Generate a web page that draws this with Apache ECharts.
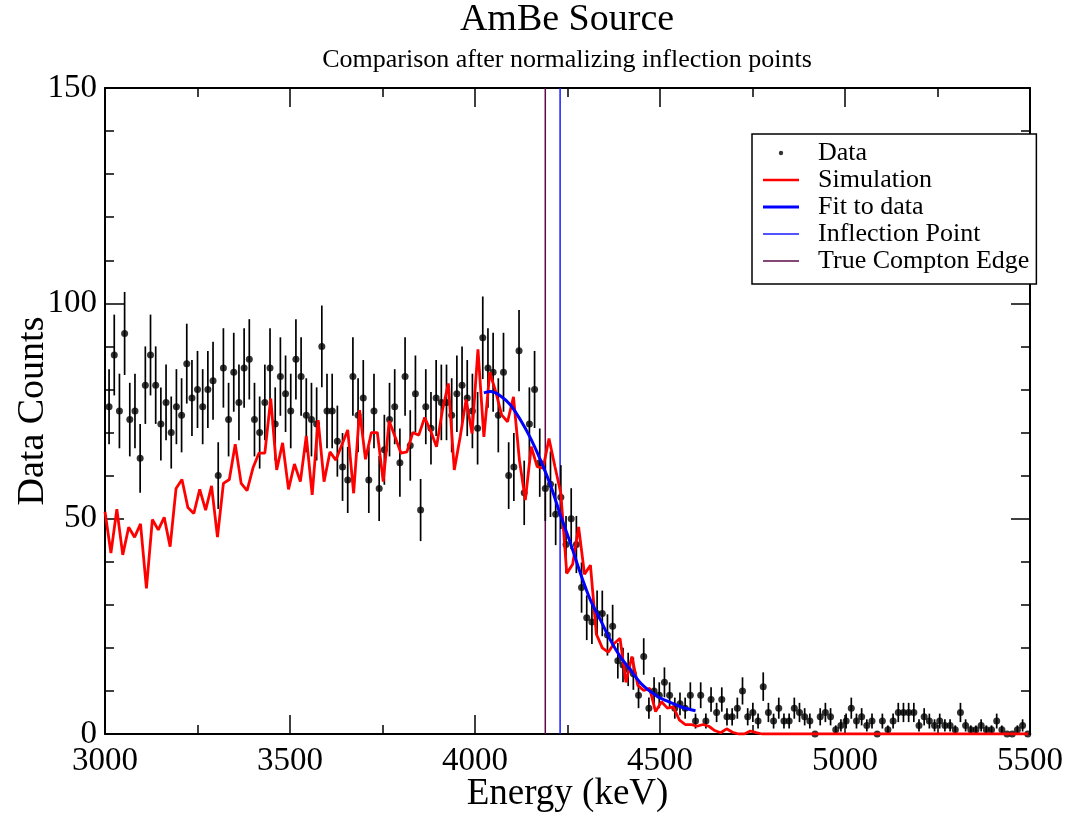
<!DOCTYPE html>
<html>
<head>
<meta charset="utf-8">
<script src="https://cdn.jsdelivr.net/npm/echarts@6/dist/echarts.min.js"></script>
<style>
  html, body { margin: 0; padding: 0; background: #fff; }
  #chart { width: 1070px; height: 814px; }
</style>
</head>
<body>
<div id="chart"></div>
<script>
// ---- Data ----
const DATA_ENERGY = [
  3011,3025,3039,3053,3067,3081,3095,3109,3123,3137,3151,3165,3179,3193,3207,3221,3235,
  3250,3264,3278,3292,3306,3320,3334,3348,3362,3376,3390,3404,3418,3432,3446,3460,3474,3488,
  3502,3516,3530,3544,3558,3572,3586,3600,3614,3628,3642,3656,3670,3684,3698,
  3713,3727,3741,3755,3769,3783,3797,3811,3825,3839,3853,3867,3881,3895,3909,3923,3937,3951,
  3965,3979,3993,4007,4021,4035,4049,4063,4077,4091,4105,4119,4133,4147,4161,4175,
  4190,4204,4218,4232,4246,4260,4274,4288,4302,4316,4330,4344,4358,4372,4386,4400,4414,4428,
  4442,4456,4470,4484,4498,4512,4526,4540,4554,4568,4582,4596,4610,4624,4638,
  4653,4667,4681,4695,4709,4723,4737,4751,4765,4779,4793,4807,4821,4835,4849,4863,4877,4891,
  4905,4919,4933,4947,4961,4975,4989,5003,5017,5031,5045,5059,5073,5087,5101,
  5116,5130,5144,5158,5172,5186,5200,5214,5228,5242,5256,5270,5284,5298,5312,5326,5340,5354,
  5368,5382,5396,5410,5424,5438,5452,5466,5480,5494
];
const DATA_COUNTS = [
  76,88,75,93,73,75,64,81,88,81,
  72,77,70,76,74,86,78,80,76,80,
  82,60,85,73,84,77,85,87,73,70,
  77,85,72,83,79,75,87,83,74,73,
  72,90,75,75,68,62,59,83,74,78,
  59,75,57,66,73,76,63,83,67,79,
  52,76,71,78,77,77,74,79,81,78,
  75,71,92,85,84,74,84,60,62,89,
  56,72,80,63,57,58,51,55,44,50,
  44,34,27,26,28,28,23,25,17,16,
  15,14,9,18,6,10,9,12,9,6,
  7,6,9,3,9,3,8,5,8,4,
  4,6,10,4,5,3,11,5,3,6,
  3,3,6,5,4,3,0,4,5,4,
  1,2,3,6,3,4,2,3,0,3,
  1,3,5,5,5,5,2,4,3,2,
  3,2,2,1,5,2,1,1,2,1,
  1,3,1,0,0,1,2,0
];
const SIM_ENERGY = [
  3000,3016,3032,3048,3064,3080,3096,3112,3128,3144,
  3160,3176,3192,3208,3224,3240,3256,3272,3288,3304,
  3320,3336,3352,3368,3384,3400,3416,3432,3448,3464,
  3480,3496,3512,3528,3544,3560,3576,3592,3608,3624,
  3640,3656,3672,3688,3704,3720,3736,3752,3768,3784,
  3800,3816,3832,3848,3864,3880,3896,3912,3928,3944,
  3960,3976,3992,4008,4024,4040,4056,4072,4088,4104,
  4120,4136,4152,4168,4184,4200,4216,4232,4248,4264,
  4280,4296,4312,4328,4344,4360,4376,4392,4408,4424,
  4440,4456,4472,4488,4504,4520,4536,4552,4568,4584,
  4600,4616,4632,4648,4664,4680,4696,4712,4728,4744,
  4760,4776,4792,5496
];
const SIM_COUNTS = [
  51.6,42.0,52.2,41.6,48.0,45.7,48.8,33.8,49.8,47.4,
  50.3,43.5,57.0,59.1,52.6,51.2,56.8,52.0,57.6,45.7,
  58.2,59.1,67.3,58.2,56.5,61.8,65.2,65.2,77.9,61.3,
  67.6,56.8,62.7,58.6,69.2,55.5,72.9,58.6,65.5,63.6,
  67.1,70.6,55.9,75.2,63.8,70.0,70.0,58.6,72.7,69.0,
  65.2,65.5,70.0,69.4,73.5,70.4,66.7,75.2,81.4,61.3,
  69.0,77.7,69.8,89.3,69.0,84.0,79.5,74.1,72.5,78.3,
  63.6,54.3,66.7,62.1,61.7,68.6,62.1,55.9,37.3,39.4,
  48.1,37.1,39.2,23.2,20.0,19.0,21.0,22.2,12.0,18.0,
  11.3,10.1,10.6,5.2,7.5,6.0,6.3,3.3,2.2,2.2,
  1.8,2.2,1.8,0.8,0.3,1.2,0.4,0,0,0.7,
  0.3,0,0,0
];
const FIT_ENERGY = [4024,4042,4069,4096,4123,4150,4177,4204,4231,4258,4285,4312,4339,4366,4393,4420,4448,4475,4502,4529,4560,4596];
const FIT_COUNTS = [79.2,79.5,78.5,76.4,72.9,68.7,63.6,57.8,50.8,44.3,37.3,31.1,26.5,21.8,17.9,14.9,11.8,9.8,8.3,7.3,6.2,5.4];
const INFLECTION_KEV = 4230;
const COMPTON_EDGE_KEV = 4190;
const X_TICKS = [3000, 3500, 4000, 4500, 5000, 5500];
const Y_TICKS = [0, 50, 100, 150];

const TITLE = 'AmBe Source';
const SUBTITLE = 'Comparison after normalizing inflection points';
const X_NAME = 'Energy (keV)';
const Y_NAME = 'Data Counts';

// ---- Build ----
const SERIF = "'Liberation Serif', 'Times New Roman', Times, serif";
const dataPts = DATA_ENERGY.map((e, i) => [e, DATA_COUNTS[i], Math.sqrt(DATA_COUNTS[i])]);
const simPts = SIM_ENERGY.map((e, i) => [e, SIM_COUNTS[i]]);
const fitPts = FIT_ENERGY.map((e, i) => [e, FIT_COUNTS[i]]);
const yMin = Y_TICKS[0], yMax = Y_TICKS[Y_TICKS.length - 1];
const xMin = X_TICKS[0], xMax = X_TICKS[X_TICKS.length - 1];
const plainNum = v => String(v);

const chart = echarts.init(document.getElementById('chart'), null, { renderer: 'canvas' });

const axisCommon = {
  axisLine: { show: true, onZero: false, lineStyle: { color: '#000', width: 2 } },
  splitLine: { show: false },
};
const tickStyle = { show: true, inside: true, length: 19, lineStyle: { color: '#000', width: 1.5 } };

const option = {
  animation: false,
  backgroundColor: '#fff',
  title: {
    text: TITLE,
    subtext: SUBTITLE,
    left: 567,
    top: 1,
    textAlign: 'center',
    itemGap: 8,
    padding: 0,
    textStyle: { fontFamily: SERIF, fontSize: 38, fontWeight: 'normal', color: '#000' },
    subtextStyle: { fontFamily: SERIF, fontSize: 26, color: '#000' }
  },
  grid: { left: 105, right: 40, top: 88, bottom: 80, containLabel: false, outerBoundsMode: 'none' },
  legend: {
    orient: 'vertical',
    left: 752,
    top: 134,
    padding: [6, 7, 10, 11],
    itemWidth: 36,
    itemHeight: 14,
    itemGap: 1,
    borderColor: '#000',
    borderWidth: 1.5,
    backgroundColor: '#fff',
    textStyle: { fontFamily: SERIF, fontSize: 26, color: '#000', padding: [0, 0, 0, 14] },
    itemStyle: { borderWidth: 0 },
    lineStyle: { width: 0 },
    data: [
      { name: 'Data', icon: 'path://M0,0M36,14M20.2,7A2.2,2.2,0,1,1,15.8,7A2.2,2.2,0,1,1,20.2,7Z' },
      { name: 'Simulation', icon: 'path://M0,0H36V2.4H0Z' },
      { name: 'Fit to data', icon: 'path://M0,0H36V3.2H0Z' },
      { name: 'Inflection Point', icon: 'path://M0,0H36V1.4H0Z' },
      { name: 'True Compton Edge', icon: 'path://M0,0H36V1.4H0Z' }
    ]
  },
  xAxis: [
    Object.assign({}, axisCommon, {
      type: 'value', min: xMin, max: xMax, interval: 500, position: 'bottom',
      name: X_NAME, nameLocation: 'middle', nameGap: 42, nameMoveOverlap: false,
      nameTextStyle: { fontFamily: SERIF, fontSize: 37, color: '#000' },
      axisTick: tickStyle,
      minorTick: { show: true, splitNumber: 2, length: 9, lineStyle: { color: '#000', width: 1.5 } },
      axisLabel: { show: true, margin: 11, fontFamily: SERIF, fontSize: 33, color: '#000', formatter: plainNum }
    }),
    Object.assign({}, axisCommon, {
      type: 'value', min: xMin, max: xMax, interval: 500, position: 'top',
      axisTick: tickStyle,
      minorTick: { show: true, splitNumber: 2, length: 9, lineStyle: { color: '#000', width: 1.5 } },
      axisLabel: { show: false }
    })
  ],
  yAxis: [
    Object.assign({}, axisCommon, {
      type: 'value', min: yMin, max: yMax, interval: 50, position: 'left',
      name: Y_NAME, nameLocation: 'middle', nameGap: 53, nameMoveOverlap: false,
      nameTextStyle: { fontFamily: SERIF, fontSize: 38, color: '#000' },
      axisTick: tickStyle,
      minorTick: { show: true, splitNumber: 5, length: 9, lineStyle: { color: '#000', width: 1.5 } },
      axisLabel: { show: true, margin: 8, fontFamily: SERIF, fontSize: 33, color: '#000', formatter: plainNum }
    }),
    Object.assign({}, axisCommon, {
      type: 'value', min: yMin, max: yMax, interval: 50, position: 'right',
      axisTick: tickStyle,
      minorTick: { show: true, splitNumber: 5, length: 9, lineStyle: { color: '#000', width: 1.5 } },
      axisLabel: { show: false }
    })
  ],
  series: [
    {
      name: 'True Compton Edge', type: 'line', z: 1,
      data: [[COMPTON_EDGE_KEV, yMin], [COMPTON_EDGE_KEV, yMax]],
      symbol: 'none', silent: true,
      color: '#5c0a44',
      lineStyle: { color: '#5c0a44', width: 1.5 },
      itemStyle: { color: '#5c0a44' }
    },
    {
      name: 'Inflection Point', type: 'line', z: 1,
      data: [[INFLECTION_KEV, yMin], [INFLECTION_KEV, yMax]],
      symbol: 'none', silent: true,
      color: '#1a1aff',
      lineStyle: { color: '#1a1aff', width: 1.5 },
      itemStyle: { color: '#1a1aff' }
    },
    {
      name: 'Data error', type: 'custom', z: 2,
      data: dataPts,
      encode: { x: 0, y: 1 },
      renderItem: function (params, api) {
        const x = api.value(0), y = api.value(1), e = api.value(2);
        if (!e) return null;
        const p1 = api.coord([x, y + e]);
        const p2 = api.coord([x, y - e]);
        return {
          type: 'line',
          shape: { x1: p1[0], y1: p1[1], x2: p2[0], y2: p2[1] },
          style: { stroke: '#000', lineWidth: 1.7 }
        };
      }
    },
    {
      name: 'Data', type: 'scatter', z: 3,
      data: dataPts.map(p => [p[0], p[1]]),
      symbol: 'circle', symbolSize: 7,
      color: '#000',
      itemStyle: { color: '#000' }
    },
    {
      name: 'Simulation', type: 'line', z: 4,
      data: simPts,
      symbol: 'none', showSymbol: false,
      color: '#ff0000',
      lineStyle: { color: '#ff0000', width: 2.8 },
      itemStyle: { color: '#ff0000' }
    },
    {
      name: 'Fit to data', type: 'line', z: 5,
      data: fitPts,
      symbol: 'none', showSymbol: false, smooth: 0.3,
      color: '#0000ff',
      lineStyle: { color: '#0000ff', width: 3 },
      itemStyle: { color: '#0000ff' }
    }
  ]
};

chart.setOption(option);
</script>
</body>
</html>
